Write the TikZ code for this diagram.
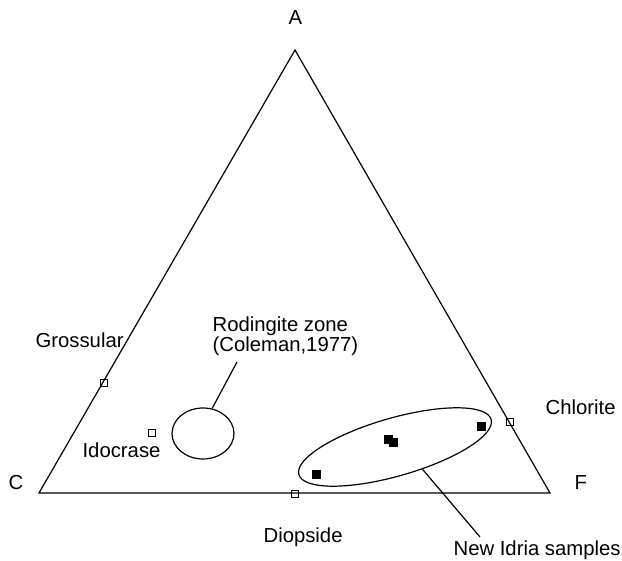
\documentclass[tikz,border=0pt]{standalone}
\usepackage{fontspec}
\setmainfont{Liberation Sans}
\usepackage{tikz}
\usetikzlibrary{shapes.geometric,
                positioning}

\begin{document}
\begin{tikzpicture}[x=1pt,y=-1pt,line width=1.2pt,
  lbl/.style={inner sep=0pt,anchor=base west,font=\fontsize{20.3}{20}\selectfont},
  opensq/.style={draw,line width=0.9pt,minimum size=7pt,inner sep=0pt},
  fullsq/.style={fill,minimum size=9pt,inner sep=0pt},
  zone/.style={draw,ellipse,inner sep=0pt}]
\useasboundingbox (0,0) rectangle (622,561);

\coordinate (A) at (295,50);
\coordinate (C) at (39,493);
\coordinate (F) at (550,493);
\draw (C) -- (A) -- (F) -- cycle;

\foreach \n/\x/\y in {A/288/25,C/8/490,F/574/490}
  \node[lbl] (lab\n) at (\x,\y) {\n};

\foreach \n/\x/\y in {gro/104/383,ido/152/433,dio/295/494,chl/510/422}
  \node[opensq] (\n) at (\x,\y) {};

\foreach \n/\x/\y/\t in {gro/35/348/Grossular,ido/82/458/Idocrase,
                         dio/263/543/Diopside,chl/545/415/Chlorite}
  \node[lbl] (\n txt) at (\x,\y) {\t};

\foreach \n/\x/\y in {s1/316/475,s2/388/440,s3/393/443,s4/481/427}
  \node[fullsq] (\n) at (\x,\y) {};

\node[zone,minimum width=62pt,minimum height=51pt] (rod) at (203,433.5) {};
\node[zone,minimum width=200pt,minimum height=58pt,rotate=16] (nis) at (395,447) {};

% base of a two-line node sits on its last line
\node[lbl,align=left] (rodtxt) at (212,352) {Rodingite zone\\(Coleman,1977)};
\node[lbl] (nistxt) at (453,555) {New Idria samples};

\coordinate (rodend) at (237,362);
\coordinate (nisend) at (480,537);
\draw (rod.70) -- (rodend);
\draw (nis.-55) -- (nisend);
\end{tikzpicture}
\end{document}
